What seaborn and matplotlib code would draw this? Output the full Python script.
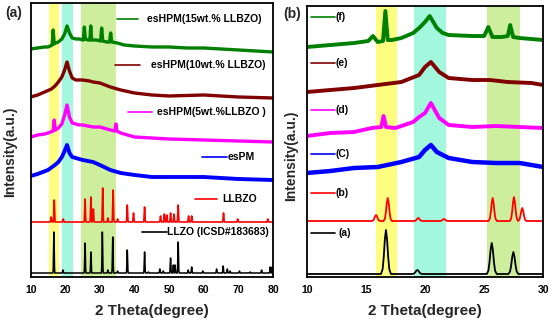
import numpy as np
import pandas as pd
import matplotlib
matplotlib.use("Agg")
import matplotlib.pyplot as plt
import seaborn as sns

sns.set_theme(style="white")
plt.rcParams["font.family"] = ["Liberation Sans", "DejaVu Sans"]
plt.rcParams["font.weight"] = "bold"

# ---------------- Panel (a): 10-80 deg ----------------
# noisy traces: (2theta, intensity offset)
a15_x = [10, 12, 14, 15, 16.2, 16.5, 16.8, 17.2, 18, 19, 19.8, 20.5, 21.2, 22, 23, 24, 25.2, 25.5, 25.8,
         26.5, 27.1, 27.35, 27.6, 29, 30.2, 30.5, 30.8, 32, 32.8, 33.1, 33.4, 35, 37, 40, 45, 50, 55, 60,
         65, 70, 75, 80]
a15_y = [228, 229, 230, 230, 232, 247, 233, 234, 235, 238, 243, 251, 244, 239, 238, 238, 237, 250, 238,
         237, 237, 251, 237, 237, 236, 249, 236, 235, 235, 244, 235, 234, 232, 231, 230, 230, 229, 229,
         228, 227, 226, 225]

a10_x = [10, 12, 14, 16, 17, 18, 19, 19.8, 20.5, 21.2, 22, 23, 25, 27, 28, 30, 33, 36, 40, 45, 50, 60, 70, 80]
a10_y = [180, 182, 185, 188, 191, 195, 200, 207, 215, 206, 199, 197, 197, 196, 195, 194, 190, 187, 184,
         182, 181, 182, 180, 179]

a5_x = [10, 12, 14, 15, 16.5, 16.8, 17.1, 18, 19, 19.8, 20.5, 21.2, 22, 24, 25, 28, 30, 33, 34.3, 34.6,
        34.9, 36, 40, 45, 50, 60, 70, 80]
a5_y = [140, 142, 143, 144, 146, 157, 147, 149, 153, 162, 172, 160, 154, 152, 152, 150, 150, 147, 146,
        153, 146, 144, 140, 139, 138, 137, 136, 135]

aPM_x = [10, 12, 15, 17, 18, 19, 19.8, 20.5, 21.2, 22, 25, 28, 30, 33, 36, 40, 45, 50, 60, 70, 80]
aPM_y = [101, 103, 107, 112, 115, 120, 126, 132, 124, 120, 117, 115, 112, 107, 104, 102, 100, 100, 100, 98, 97]

# sharp-peak traces: baseline and peak list
a_llbzo_base = 55
a_llbzo_pos = [15.9, 16.8, 19.4, 25.7, 27.4, 28.1, 30.8, 32.3, 33.8, 35.1, 37.9, 39.7, 42.9, 47.5, 48.6,
               49.3, 50.4, 51.4, 52.6, 55.6, 56.5, 65.7, 69.8, 78.5]
a_llbzo_h = [60, 77, 58, 78, 80, 68, 89, 59, 87, 58, 72, 64, 70, 61, 63, 62, 64, 63, 72, 61, 61, 64, 58, 58]

a_llzo_base = 4
a_llzo_pos = [16.7, 19.3, 25.7, 27.4, 30.7, 32.3, 33.7, 35.1, 37.9, 42.9, 44.0, 47.3, 48.3, 50.4, 51.2,
              51.7, 52.6, 55.5, 56.5, 59.7, 63.7, 65.6, 66.8, 67.6, 70.3, 73.4, 76.7, 79.2, 79.8]
a_llzo_h = [45, 7, 34, 25, 45, 7, 40, 6, 27, 25, 5, 8, 6, 19, 12, 12, 35, 7, 10, 6, 8, 11, 8, 6, 6, 5, 7, 10, 10]

# ---------------- Panel (b): 10-30 deg ----------------
bf_x = [10, 12, 14, 15.2, 15.6, 16.0, 16.45, 16.65, 16.85, 17.2, 18, 19, 19.5, 20, 20.4, 21, 21.5, 22, 24,
        25.0, 25.35, 25.7, 26.5, 27.0, 27.2, 27.45, 28, 30]
bf_y = [230, 232, 234, 236, 241, 235, 236, 266, 237, 237, 239, 244, 249, 255, 261, 249, 244, 242, 241,
        241, 250, 240, 240, 241, 252, 240, 239, 237]

be_x = [10, 12, 14, 16, 18, 19.5, 20, 20.5, 21.2, 22, 24, 25.5, 27, 29, 30]
be_y = [185, 187, 189, 192, 195, 202, 210, 215, 205, 199, 197, 197, 195, 194, 192]

bd_x = [10, 12, 14, 15.5, 16.3, 16.5, 16.7, 17.5, 19, 19.5, 20, 20.5, 21.2, 22, 24, 26, 28, 30]
bd_y = [141, 144, 145, 149, 150, 161, 150, 149, 155, 160, 164, 174, 159, 152, 150, 151, 150, 149]

bc_x = [10, 12, 14, 16, 18, 19.5, 20, 20.5, 21, 22, 24, 26, 28, 30]
bc_y = [104, 106, 109, 110, 115, 120, 127, 132, 125, 119, 115, 114, 114, 110]

bb_base = 56
bb_pos = [15.86, 16.85, 19.43, 21.6, 25.72, 27.52, 28.22]
bb_h = [62, 79, 59, 58, 79, 80, 69]

ba_base = 3
ba_pos = [16.7, 19.35, 25.64, 27.47]
ba_h = [47, 7, 34, 25]

# shading bands (deg)
a_bands = [(15.2, 18.2), (19.0, 22.1), (24.5, 34.5)]
b_bands = [(15.85, 17.6), (19.1, 21.8), (25.2, 28.0)]
band_colors = ["#fdfd80", "#a2f7dc", "#cdee9c"]

# peak profile template (offset fraction, height fraction)
prof_off = [-1.0, -0.67, -0.45, -0.22, 0.0, 0.22, 0.45, 0.67, 1.0]
prof_frac = [0.0, 0.11, 0.38, 0.79, 1.0, 0.79, 0.38, 0.11, 0.0]


def peak_trace(base, pos, h, hw, x0, x1):
    xs, ys = [x0, x1], [base, base]
    for p, hh in zip(pos, h):
        for o, f in zip(prof_off, prof_frac):
            xs.append(p + o * hw)
            ys.append(base + (hh - base) * f)
    df = pd.DataFrame({"x": xs, "y": ys}).sort_values("x")
    return df


def line(ax, x, y, color, lw):
    sns.lineplot(x=x, y=y, ax=ax, color=color, lw=lw, estimator=None, sort=True)


fig = plt.figure(figsize=(5.54, 3.25), dpi=100)
axA = fig.add_axes([0.0554, 0.1477, 0.4374, 0.8431])
axB = fig.add_axes([0.5536, 0.1477, 0.4271, 0.8338])

for ax, bands in ((axA, a_bands), (axB, b_bands)):
    for (lo, hi), c in zip(bands, band_colors):
        ax.axvspan(lo, hi, color=c, lw=0, zorder=0)

# panel a
line(axA, a15_x, a15_y, "#008000", 2.4)
line(axA, a10_x, a10_y, "#800000", 2.4)
line(axA, a5_x, a5_y, "#ff00ff", 2.4)
line(axA, aPM_x, aPM_y, "#0000ff", 2.8)
d = peak_trace(a_llbzo_base, a_llbzo_pos, a_llbzo_h, 0.3, 10, 80)
line(axA, d["x"], d["y"], "#ff0000", 1.2)
d = peak_trace(a_llzo_base, a_llzo_pos, a_llzo_h, 0.28, 10, 80)
line(axA, d["x"], d["y"], "black", 1.1)

# panel b
line(axB, bf_x, bf_y, "#008000", 2.8)
line(axB, be_x, be_y, "#800000", 2.8)
line(axB, bd_x, bd_y, "#ff00ff", 2.8)
line(axB, bc_x, bc_y, "#0000ff", 3.2)
d = peak_trace(bb_base, bb_pos, bb_h, 0.35, 10, 30)
line(axB, d["x"], d["y"], "#ff0000", 1.3)
d = peak_trace(ba_base, ba_pos, ba_h, 0.42, 10, 30)
line(axB, d["x"], d["y"], "black", 1.3)

axA.set_xlim(10, 80)
axA.set_ylim(0, 274)
axB.set_xlim(10, 30)
axB.set_ylim(0, 271)
axA.set_xticks(range(10, 81, 10))
axB.set_xticks(range(10, 31, 5))

for ax in (axA, axB):
    ax.set_yticks([])
    for s in ax.spines.values():
        s.set_color("black")
        s.set_linewidth(1.3)
    ax.tick_params(axis="x", labelsize=7.5, pad=6, length=0, colors="black")
    for t in ax.get_xticklabels():
        t.set_fontweight("bold")
    ax.set_xlabel("2 Theta(degree)", fontsize=11, fontweight="bold", labelpad=6)
    ax.set_ylabel("Intensity(a.u.)", fontsize=10, fontweight="bold")

axA.yaxis.set_label_coords(-0.056, 0.456)
axB.yaxis.set_label_coords(-0.036, 0.446)

# legends panel a (axes fraction positions)
W_A, H_A = 242.3, 274.0


def ax_frac_a(px, py):
    return (px - 30.7) / W_A, (277 - py) / H_A


a_leg = [
    ("esHPM(15wt.% LLBZO)", "#008000", 117, 138, 147, 19),
    ("esHPM(10wt.% LLBZO)", "#800000", 115, 140, 151, 65),
    ("esHPM(5wt.%LLBZO )", "#ff00ff", 128, 152, 157, 112),
    ("esPM", "#0000ff", 202, 227, 228, 157),
    ("LLBZO", "#ff0000", 195, 217, 222, 199),
    ("LLZO (ICSD#183683)", "black", 142, 167, 167, 232),
]
for txt, c, x0, x1, xt, yy in a_leg:
    fx0, fy = ax_frac_a(x0, yy)
    fx1, _ = ax_frac_a(x1, yy)
    fxt, _ = ax_frac_a(xt, yy)
    axA.plot([fx0, fx1], [fy, fy], color=c, lw=1.2, transform=axA.transAxes)
    axA.text(fxt, fy, txt, transform=axA.transAxes, fontsize=7.5, fontweight="bold",
             va="center", ha="left", color="black")

W_B, H_B = 236.6, 271.0


def ax_frac_b(px, py):
    return (px - 306.7) / W_B, (277 - py) / H_B


b_leg = [
    ("(f)", "#008000", 17), ("(e)", "#800000", 63), ("(d)", "#ff00ff", 110),
    ("(C)", "#0000ff", 154), ("(b)", "#ff0000", 193), ("(a)", "black", 233),
]
for txt, c, yy in b_leg:
    fx0, fy = ax_frac_b(311, yy)
    fx1, _ = ax_frac_b(335, yy)
    fxt, _ = ax_frac_b(336 if txt != "(a)" else 339, yy)
    axB.plot([fx0, fx1], [fy, fy], color=c, lw=1.2, transform=axB.transAxes)
    axB.text(fxt, fy, txt, transform=axB.transAxes, fontsize=7.5, fontweight="bold",
             va="center", ha="left", color="black")

fig.text(5 / 554, 1 - 13 / 325, "(a)", fontsize=10, fontweight="bold", va="center", ha="left")
fig.text(283 / 554, 1 - 14 / 325, "(b)", fontsize=10, fontweight="bold", va="center", ha="left")

fig.savefig("out.png", dpi=100)
